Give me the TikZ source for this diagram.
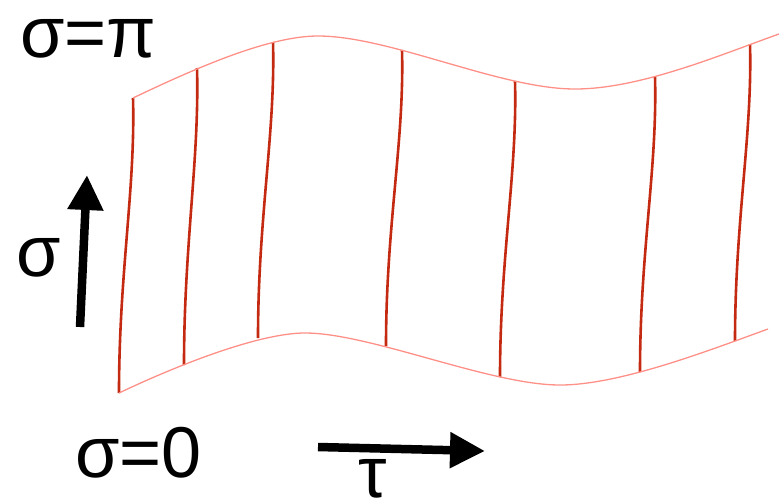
\documentclass[tikz,border=0pt]{standalone}
\usepackage{fontspec}
\setmainfont{Liberation Sans}
\usetikzlibrary{arrows.meta,calc}
\definecolor{edgecol}{HTML}{FF9088}
\definecolor{rungcol}{HTML}{C42A12}
\tikzset{
  edgeline/.style={draw=edgecol, line width=1.3pt},
  rungline/.style={draw=rungcol, line width=2.6pt},
  bigarrow/.style={draw=black, line width=8.5pt, -{Triangle[length=35pt,width=34pt]}},
  lbl/.style={inner sep=0pt, anchor=base west, font=\fontsize{72}{80}\selectfont}
}
\begin{document}
\begin{tikzpicture}[x=1pt,y=-1pt]
\useasboundingbox (0,0) rectangle (779,499);
% rungs
\foreach \i/\tx/\ty/\bx/\by in {1/133/98/119/393, 2/197/68/184/365, 3/273/42/258/338,
  4/402/50/386/346, 5/515/81/500/377, 6/655/77/640/372, 7/750/44/735/341}{
  \coordinate (t\i) at (\tx,\ty);
  \coordinate (b\i) at (\bx,\by);
  \draw[rungline] (t\i) .. controls ($(t\i)+(2.5,90)$) and ($(b\i)+(0,-120)$) .. (b\i);
}
% top edge
\coordinate (tpk) at (318,36);
\coordinate (tmn) at (575,89);
\coordinate (tend) at (779,34);
\draw[edgeline] (t1) .. controls (200,66) and (270,36) .. (tpk)
  .. controls (390,36) and (500,89) .. (tmn)
  .. controls (640,89) and (720,55) .. (tend);
% bottom edge
\coordinate (bpk) at (305,333);
\coordinate (bmn) at (560,385);
\coordinate (bend) at (768,329);
\draw[edgeline] (b1) .. controls (180,364) and (260,333) .. (bpk)
  .. controls (370,333) and (490,385) .. (bmn)
  .. controls (620,385) and (710,350) .. (bend);
% arrows
\coordinate (sa0) at (80,327);
\coordinate (sa1) at (87,175);
\draw[bigarrow] (sa0) -- (sa1);
\coordinate (ta0) at (318,447);
\coordinate (ta1) at (485,451);
\draw[bigarrow] (ta0) -- (ta1);
% labels
\node[lbl] (lpi) at (20,57) {σ=π};
\node[lbl] (lzero) at (75,477) {σ=0};
\node[lbl] (lsig) at (16,276) {σ};
\node[lbl] (ltau) at (358,497) {τ};
\end{tikzpicture}
\end{document}
